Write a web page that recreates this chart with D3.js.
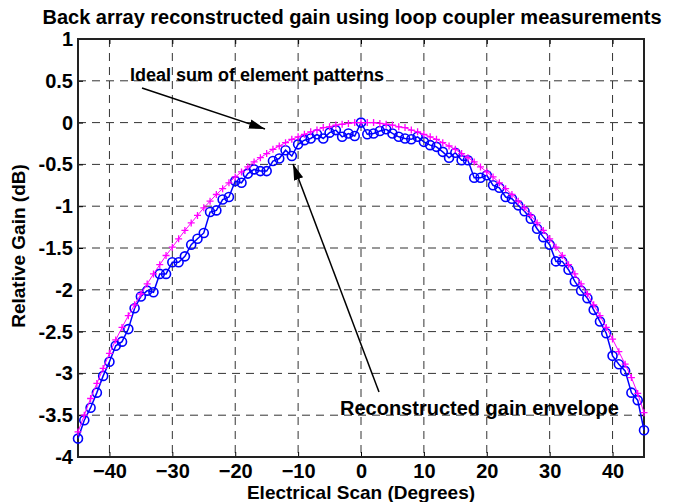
<!DOCTYPE html>
<html>
<head>
<meta charset="utf-8">
<script src="https://cdn.jsdelivr.net/npm/d3@7"></script>
<style>
  body { margin: 0; background: #fff; }
  text { font-family: "Liberation Sans", Arial, sans-serif; font-weight: bold; }
</style>
</head>
<body>
<svg></svg>
<script>
const width = 677;
const height = 502;
const plotLeft = 78, plotRight = 644, plotTop = 39, plotBottom = 457;

const titleText = "Back array reconstructed gain using loop coupler measurements";
const xLabel = "Electrical Scan (Degrees)";
const yLabel = "Relative Gain (dB)";
const xTicks = [-40, -30, -20, -10, 0, 10, 20, 30, 40];
const yTicks = [1, 0.5, 0, -0.5, -1, -1.5, -2, -2.5, -3, -3.5, -4];

const scanDeg = [-45, -44, -43, -42, -41, -40, -39, -38, -37, -36, -35, -34, -33, -32, -31,
  -30, -29, -28, -27, -26, -25, -24, -23, -22, -21, -20, -19, -18, -17, -16, -15, -14, -13,
  -12, -11, -10, -9, -8, -7, -6, -5, -4, -3, -2, -1, 0, 1, 2, 3, 4, 5, 6, 7, 8, 9, 10, 11, 12,
  13, 14, 15, 16, 17, 18, 19, 20, 21, 22, 23, 24, 25, 26, 27, 28, 29, 30, 31, 32, 33, 34, 35,
  36, 37, 38, 39, 40, 41, 42, 43, 44, 45];

// ideal sum of element patterns (magenta +)
const idealGain = [-3.70, -3.50, -3.30, -3.12, -2.94, -2.76, -2.60, -2.45, -2.31, -2.18, -2.05,
  -1.93, -1.81, -1.70, -1.59, -1.49, -1.39, -1.29, -1.20, -1.11, -1.02, -0.94, -0.86, -0.79,
  -0.72, -0.65, -0.59, -0.53, -0.47, -0.42, -0.37, -0.32, -0.28, -0.24, -0.20, -0.17, -0.14,
  -0.11, -0.09, -0.06, -0.05, -0.03, -0.02, -0.01, 0.00, 0.00, 0.00, 0.00, -0.01, -0.02, -0.03,
  -0.05, -0.06, -0.09, -0.11, -0.14, -0.17, -0.20, -0.24, -0.28, -0.32, -0.37, -0.42, -0.47,
  -0.53, -0.59, -0.65, -0.72, -0.79, -0.86, -0.94, -1.02, -1.11, -1.20, -1.29, -1.39, -1.49,
  -1.59, -1.70, -1.81, -1.93, -2.05, -2.18, -2.31, -2.45, -2.59, -2.74, -2.89, -3.05, -3.24, -3.47];

// reconstructed gain envelope (blue o)
const reconGain = [-3.78, -3.56, -3.41, -3.23, -3.03, -2.86, -2.67, -2.62, -2.47, -2.22, -2.08,
  -2.01, -2.03, -1.81, -1.81, -1.67, -1.67, -1.60, -1.46, -1.39, -1.32, -1.07, -1.05, -0.92,
  -0.89, -0.70, -0.72, -0.61, -0.56, -0.58, -0.58, -0.46, -0.43, -0.33, -0.40, -0.26, -0.21,
  -0.19, -0.14, -0.19, -0.12, -0.09, -0.17, -0.13, -0.16, 0.00, -0.14, -0.13, -0.10, -0.08, -0.13,
  -0.17, -0.19, -0.20, -0.17, -0.23, -0.27, -0.29, -0.35, -0.42, -0.36, -0.45, -0.45, -0.66,
  -0.66, -0.63, -0.75, -0.78, -0.89, -0.91, -0.99, -1.06, -1.15, -1.27, -1.37, -1.46, -1.66,
  -1.66, -1.76, -1.90, -2.01, -2.10, -2.24, -2.38, -2.52, -2.79, -2.89, -2.97, -3.23, -3.32, -3.68];

let svg = d3.select("svg").attr("width", width).attr("height", height);

let scX = d3.scaleLinear().domain([-45, 45]).range([plotLeft, plotRight]);
let scY = d3.scaleLinear().domain([-4, 1]).range([plotBottom, plotTop]);

// grid
let grid = svg.append("g")
  .attr("stroke", "#333")
  .attr("stroke-width", 1)
  .attr("stroke-dasharray", "8,6");
grid.selectAll(".gx").data(xTicks).enter().append("line")
  .attr("x1", d => scX(d)).attr("x2", d => scX(d))
  .attr("y1", plotTop).attr("y2", plotBottom);
grid.selectAll(".gy").data(yTicks.filter(d => d < 1 && d > -4)).enter().append("line")
  .attr("x1", plotLeft).attr("x2", plotRight)
  .attr("y1", d => scY(d)).attr("y2", d => scY(d));

// axes
let axisX = d3.axisBottom(scX).tickValues(xTicks).tickSize(-5).tickPadding(7).tickFormat(d3.format("d"));
let axisY = d3.axisLeft(scY).tickValues(yTicks).tickSize(-5).tickPadding(5).tickFormat(d => String(d));
let gx = svg.append("g").attr("transform", `translate(0, ${plotBottom})`).call(axisX);
let gy = svg.append("g").attr("transform", `translate(${plotLeft}, 0)`).call(axisY);
svg.append("g").attr("transform", `translate(0, ${plotTop})`)
  .call(d3.axisTop(scX).tickValues(xTicks).tickSize(-5).tickFormat(""));
svg.append("g").attr("transform", `translate(${plotRight}, 0)`)
  .call(d3.axisRight(scY).tickValues(yTicks).tickSize(-5).tickFormat(""));
svg.selectAll(".domain").remove();
svg.selectAll(".tick line").attr("stroke", "#000");
[gx, gy].forEach(g => g.selectAll("text")
  .attr("fill", "#000").style("font-size", "20px"));
gx.selectAll("text").attr("dy", "0.71em");

svg.append("rect")
  .attr("x", plotLeft).attr("y", plotTop)
  .attr("width", plotRight - plotLeft).attr("height", plotBottom - plotTop)
  .attr("fill", "none").attr("stroke", "#222").attr("stroke-width", 2);

// reconstructed series
let pts = scanDeg.map((d, i) => ({ x: d, ideal: idealGain[i], rec: reconGain[i] }));
let line = key => d3.line().x(d => scX(d.x)).y(d => scY(d[key]));

svg.append("path").datum(pts)
  .attr("d", line("rec"))
  .attr("fill", "none").attr("stroke", "#0000ff").attr("stroke-width", 1.5);
svg.selectAll(".rec").data(pts).enter().append("circle")
  .attr("class", "rec")
  .attr("cx", d => scX(d.x)).attr("cy", d => scY(d.rec)).attr("r", 4.5)
  .attr("fill", "none").attr("stroke", "#0000ff").attr("stroke-width", 1.6);

// ideal series
svg.append("path").datum(pts)
  .attr("d", line("ideal"))
  .attr("fill", "none").attr("stroke", "#ff00ff").attr("stroke-width", 1);
svg.selectAll(".ideal").data(pts).enter().append("path")
  .attr("class", "ideal")
  .attr("d", d => {
    let x = scX(d.x), y = scY(d.ideal), s = 3.5;
    return `M${x - s},${y}H${x + s}M${x},${y - s}V${y + s}`;
  })
  .attr("stroke", "#ff00ff").attr("stroke-width", 1.3);

// title and labels
svg.append("text").attr("x", 352).attr("y", 24)
  .attr("text-anchor", "middle").style("font-size", "20px").text(titleText);
svg.append("text").attr("x", scX(0)).attr("y", 499)
  .attr("text-anchor", "middle").style("font-size", "19px").text(xLabel);
svg.append("text").attr("transform", "translate(25, 246) rotate(-90)")
  .attr("text-anchor", "middle").style("font-size", "19px").text(yLabel);

// annotations
svg.append("defs").append("marker")
  .attr("id", "arr").attr("viewBox", "0 0 10 10")
  .attr("refX", 10).attr("refY", 5)
  .attr("markerWidth", 16).attr("markerHeight", 16)
  .attr("markerUnits", "userSpaceOnUse")
  .attr("orient", "auto")
  .append("path").attr("d", "M0,2L10,5L0,8Z").attr("fill", "#000");

svg.append("text").attr("x", 130).attr("y", 81)
  .style("font-size", "18px").text("Ideal sum of element patterns");
svg.append("line")
  .attr("x1", 142).attr("y1", 88).attr("x2", 265).attr("y2", 129)
  .attr("stroke", "#000").attr("stroke-width", 1.5).attr("marker-end", "url(#arr)");

svg.append("text").attr("x", 340).attr("y", 415)
  .style("font-size", "20px").text("Reconstructed gain envelope");
svg.append("line")
  .attr("x1", 379).attr("y1", 392).attr("x2", 293).attr("y2", 164)
  .attr("stroke", "#000").attr("stroke-width", 1.5).attr("marker-end", "url(#arr)");
</script>
</body>
</html>
